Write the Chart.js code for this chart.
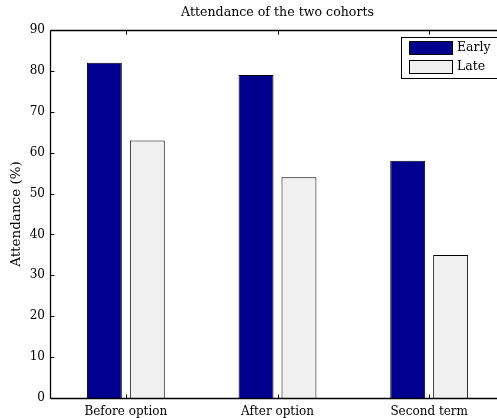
<!DOCTYPE html>
<html><head><meta charset="utf-8">
<script src="https://cdn.jsdelivr.net/npm/chart.js@4"></script>
<style>html,body{margin:0;padding:0;overflow:hidden;background:#fff;width:497px;height:418px}#wrap{width:520px;height:418px}</style>
</head><body><div id="wrap"><canvas id="c" width="520" height="418"></canvas></div>
<script>
const categories = ["Before option", "After option", "Second term"];
const earlyValues = [82, 79, 58];
const lateValues = [63, 54, 35];
const seriesNames = ["Early", "Late"];
const yTicks = [0, 10, 20, 30, 40, 50, 60, 70, 80, 90];
const titleText = "Attendance of the two cohorts";
const yTitle = "Attendance (%)";

const FONT = "'DejaVu Serif', serif";

const matlabPlugin = {
  id: 'matlab',
  afterDraw(chart) {
    const ctx = chart.ctx, a = chart.chartArea;
    const xs = chart.scales.x, ys = chart.scales.y;
    ctx.save();
    ctx.strokeStyle = '#000';
    ctx.lineWidth = 1.3;
    const L = Math.round(a.left) + 0.5, R = a.right, T = Math.round(a.top) + 0.5, B = Math.round(a.bottom) + 0.5;
    ctx.beginPath();
    ctx.moveTo(L, T); ctx.lineTo(R, T);
    ctx.moveTo(L, T); ctx.lineTo(L, B);
    ctx.moveTo(L, B); ctx.lineTo(R, B);
    ctx.stroke();
    ctx.lineWidth = 1;
    ctx.beginPath();
    yTicks.forEach(v => {
      const y = Math.round(ys.getPixelForValue(v)) + 0.5;
      ctx.moveTo(L, y); ctx.lineTo(L + 4, y);
    });
    categories.forEach((c, i) => {
      const x = Math.round(xs.getPixelForValue(i)) + 0.5;
      ctx.moveTo(x, B); ctx.lineTo(x, B - 4);
      ctx.moveTo(x, T); ctx.lineTo(x, T + 4);
    });
    ctx.stroke();
    // title
    ctx.fillStyle = '#000';
    ctx.font = "12.6px " + FONT;
    ctx.textAlign = 'center';
    ctx.textBaseline = 'middle';
    ctx.fillText(titleText, (a.left + a.right) / 2, 13);
    // legend
    const lx = 401, ly = 37, lw = 110, lh = 41;
    ctx.fillStyle = '#fff';
    ctx.fillRect(lx, ly, lw, lh);
    ctx.lineWidth = 1;
    ctx.strokeStyle = '#000';
    ctx.strokeRect(lx + 0.5, ly + 0.5, lw, lh);
    chart.data.datasets.forEach((ds, i) => {
      const sy = 41 + i * 19;
      ctx.fillStyle = ds.backgroundColor;
      ctx.fillRect(409, sy, 43, 13);
      ctx.strokeStyle = '#000';
      ctx.strokeRect(409.5, sy + 0.5, 43, 13);
      ctx.fillStyle = '#000';
      ctx.textAlign = 'left';
      ctx.font = "12.5px " + FONT;
      ctx.fillText(ds.label, 457, sy + 7);
    });
    ctx.restore();
  }
};

new Chart(document.getElementById('c'), {
  type: 'bar',
  data: {
    labels: categories,
    datasets: [
      { label: seriesNames[0], data: earlyValues, backgroundColor: '#00008F', borderColor: '#000', borderWidth: 1 },
      { label: seriesNames[1], data: lateValues, backgroundColor: '#F0F0F0', borderColor: '#000', borderWidth: 1 }
    ]
  },
  options: {
    responsive: false,
    animation: false,
    events: [],
    layout: { padding: { top: 30, left: 0, right: 15, bottom: 0 } },
    categoryPercentage: 0.566,
    barPercentage: 0.814,
    plugins: { legend: { display: false }, title: { display: false }, tooltip: { enabled: false } },
    scales: {
      x: {
        grid: { display: false, drawTicks: false },
        border: { display: false },
        ticks: { color: '#000', font: { family: FONT, size: 12 }, padding: 7 },
        afterFit(s) { s.height = 20; }
      },
      y: {
        min: 0, max: 90,
        afterBuildTicks(s) { s.ticks = yTicks.map(v => ({ value: v })); },
        grid: { display: false, drawTicks: false },
        border: { display: false },
        ticks: { color: '#000', font: { family: FONT, size: 12 }, padding: 5 },
        title: { display: true, text: yTitle, color: '#000', font: { family: FONT, size: 13.5 }, padding: { top: 8, bottom: 0 } },
        afterFit(s) { s.width = 50; }
      }
    }
  },
  plugins: [matlabPlugin]
});
</script></body></html>
